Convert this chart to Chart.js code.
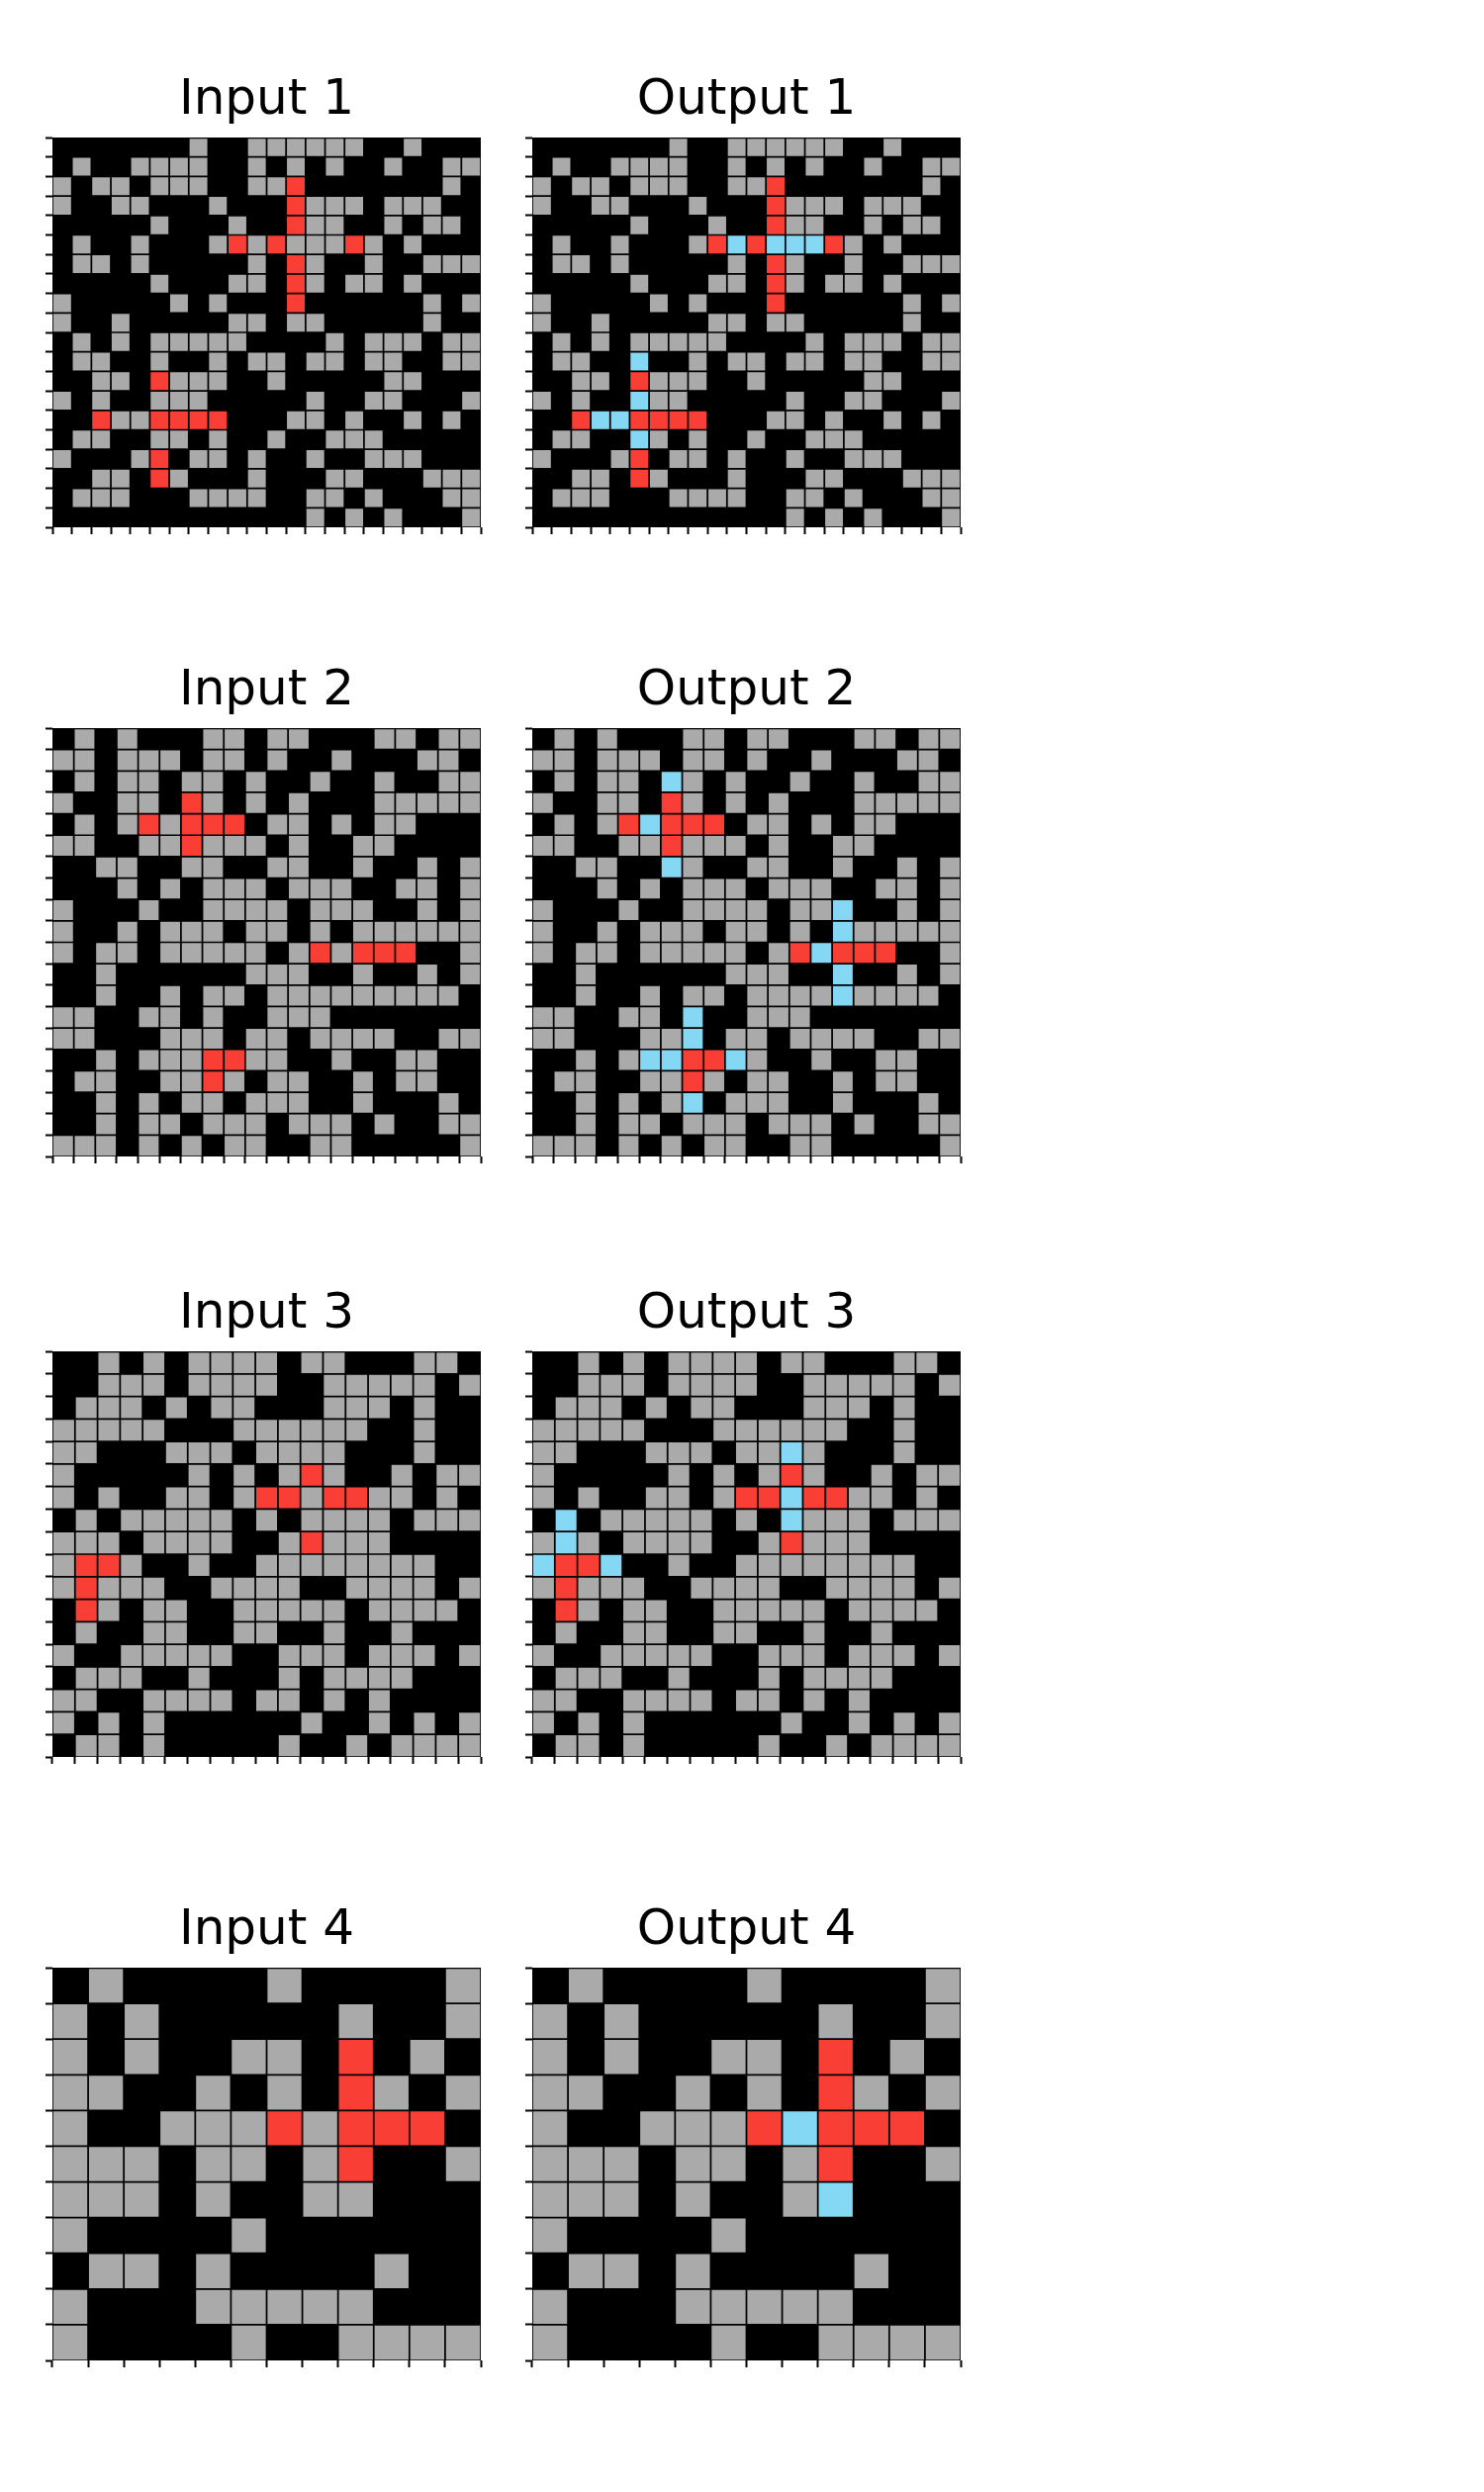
<!DOCTYPE html>
<html>
<head>
<meta charset="utf-8">
<script src="https://cdn.jsdelivr.net/npm/chart.js@4.4.1/dist/chart.umd.min.js"></script>
<style>
  body { margin: 0; background: #fff; overflow: hidden; }
  #page { position: relative; width: 1500px; height: 2519px; background: #fff; }
  #page canvas { position: absolute; }
</style>
</head>
<body>
<div id="page"></div>
<script>
// grids, one string per row: 0 black, 5 gray, 2 red, 8 light blue
const input1 = [
  "0000000500555555005000",
  "0500555500505050050055",
  "5055055500552000000050",
  "5005500050002555055500",
  "0000050005002550050550",
  "0500500052525552505000",
  "0550500000502500500555",
  "0000050005502505505000",
  "5000005050002000000505",
  "5005000005505500000500",
  "0505055555000050555055",
  "0550050050550550550055",
  "0055025550050000055000",
  "5050055500000500550005",
  "0025522220005505005050",
  "0550055050050055500000",
  "5000520550500500555000",
  "0055025000500055000555",
  "0555000555500550500055",
  "0000000000000505050005"
];
const output1 = [
  "0000000500555555005000",
  "0500555500505050050055",
  "5055055500552000000050",
  "5005500050002555055500",
  "0000050005002550050550",
  "0500500052828882505000",
  "0550500000502500500555",
  "0000050005502505505000",
  "5000005050002000000505",
  "5005000005505500000500",
  "0505055555000050555055",
  "0550080050550550550055",
  "0055025550050000055000",
  "5050085500000500550005",
  "0028822220005505005050",
  "0550085050050055500000",
  "5000520550500500555000",
  "0055025000500055000555",
  "0555000555500550500055",
  "0000000000000505050005"
];
const input2 = [
  "05050005505500055055",
  "55055505505005000550",
  "05055055050050050055",
  "50055025050500055555",
  "05052522205505055000",
  "55005525550500550000",
  "00550055005500500505",
  "00050505550555005505",
  "50005005555055500505",
  "50050555055050555555",
  "50550555550525222005",
  "00500000055500500505",
  "00500505505555555550",
  "55005505005550000000",
  "55000555055055550055",
  "00505552255005005500",
  "05500552505500505500",
  "00505055055500500050",
  "00505505550555050055",
  "55505050550055000005"
];
const output2 = [
  "05050005505500055055",
  "55055505505005000550",
  "05055085050050050055",
  "50055025050500055555",
  "05052822205505055000",
  "55005525550500550000",
  "00550085005500500505",
  "00050505550555005505",
  "50005005555055800505",
  "50050555055050855555",
  "50550555550528222005",
  "00500000055500800505",
  "00500505505555855550",
  "55005508005550000000",
  "55000558055055550055",
  "00505882285005005500",
  "05500552505500505500",
  "00505058055500500050",
  "00505505550555050055",
  "55505050550055000005"
];
const input3 = [
  "0050505555055000550",
  "0055505555005555505",
  "0555050550005550500",
  "5555500055555500500",
  "5500055505555000500",
  "5000005050525005055",
  "5050055052252255050",
  "0505555505055550555",
  "5550555500525550000",
  "5225005005555555500",
  "5255500555500555505",
  "0250550055555055550",
  "0500550055005005000",
  "5005555500555055505",
  "0555005000505555000",
  "5500555505505050000",
  "5050500000050050505",
  "0550500000500505555"
];
const output3 = [
  "0050505555055000550",
  "0055505555005555505",
  "0555050550005550500",
  "5555500055555500500",
  "5500055505585000500",
  "5000005050525005055",
  "5050055052282255050",
  "0805555505085550555",
  "5850555500525550000",
  "8228005005555555500",
  "5255500555500555505",
  "0250550055555055550",
  "0500550055005005000",
  "5005555500555055505",
  "0555005000505555000",
  "5500555505505050000",
  "5050500000050050505",
  "0550500000500505555"
];
const input4 = [
  "050000500005",
  "505000005005",
  "505005502050",
  "550050502505",
  "500555252220",
  "555055052005",
  "555050055000",
  "500005000000",
  "055050000500",
  "500055555000",
  "500005005555"
];
const output4 = [
  "050000500005",
  "505000005005",
  "505005502050",
  "550050502505",
  "500555282220",
  "555055052005",
  "555050058000",
  "500005000000",
  "055050000500",
  "500055555000",
  "500005005555"
];

const panelTitles = ["Input 1", "Output 1", "Input 2", "Output 2", "Input 3", "Output 3", "Input 4", "Output 4"];
const panelGrids = [input1, output1, input2, output2, input3, output3, input4, output4];

const palette = { "0": "#000000", "5": "#AAAAAA", "2": "#F93F35", "8": "#84D8F3" };

// page layout (px): left edge of each column, top edge of each row's grids
const colLeft = [53, 538];
const rowTop = [139, 736, 1366, 1989];
const gridWidth = 433;
const pad = 6;
const tickLen = 7;
const titleGap = 7;
const titleBox = 60 + titleGap;

// black backdrop under the cells so no seams show between black bars
const blackBackdrop = {
  id: "blackBackdrop",
  beforeDatasetsDraw(chart) {
    const { ctx, chartArea } = chart;
    ctx.save();
    ctx.fillStyle = "#000";
    ctx.fillRect(chartArea.left, chartArea.top, chartArea.width, chartArea.height);
    ctx.restore();
  }
};

function drawPanel(grid, title, gx, gy) {
  const rows = grid.length;
  const cols = grid[0].length;
  const gh = gridWidth * rows / cols;

  const canvas = document.createElement("canvas");
  const w = Math.round(pad + tickLen + gridWidth + pad);
  const h = Math.round(pad + titleBox + gh + tickLen + pad);
  canvas.width = w;
  canvas.height = h;
  canvas.style.width = w + "px";
  canvas.style.height = h + "px";
  canvas.style.left = (gx - tickLen - pad) + "px";
  canvas.style.top = (gy - titleBox - pad) + "px";
  document.getElementById("page").appendChild(canvas);

  const tickGrid = {
    offset: true,
    drawOnChartArea: false,
    drawTicks: true,
    tickLength: tickLen,
    tickWidth: 2,
    tickColor: "#000",
    color: "#000"
  };

  new Chart(canvas, {
    type: "bar",
    data: {
      labels: Array.from(grid[0], (c, i) => String(i)),
      datasets: grid.map((row, r) => ({
        label: "row " + r,
        data: Array.from(row, () => 1),
        backgroundColor: Array.from(row, c => palette[c]),
        borderColor: "#000",
        borderWidth: 1.2,
        borderSkipped: false,
        barPercentage: 1,
        categoryPercentage: 1
      }))
    },
    options: {
      responsive: false,
      animation: false,
      layout: { padding: pad },
      plugins: {
        legend: { display: false },
        tooltip: { enabled: false },
        title: {
          display: true,
          text: title,
          fullSize: false,
          color: "#000",
          font: { family: "DejaVu Sans", size: 50, weight: "normal" },
          padding: { top: 0, bottom: titleGap }
        }
      },
      scales: {
        x: {
          stacked: true,
          offset: true,
          grid: tickGrid,
          border: { display: false },
          ticks: { display: false, autoSkip: false }
        },
        y: {
          type: "linear",
          stacked: true,
          reverse: true,
          min: 0,
          max: rows,
          grid: Object.assign({}, tickGrid, { offset: false }),
          border: { display: false },
          ticks: { display: false, stepSize: 1 }
        }
      }
    },
    plugins: [blackBackdrop]
  });
}

document.addEventListener("DOMContentLoaded", () => {
  panelGrids.forEach((grid, i) => {
    drawPanel(grid, panelTitles[i], colLeft[i % 2], rowTop[Math.floor(i / 2)]);
  });
});
</script>
</body>
</html>
